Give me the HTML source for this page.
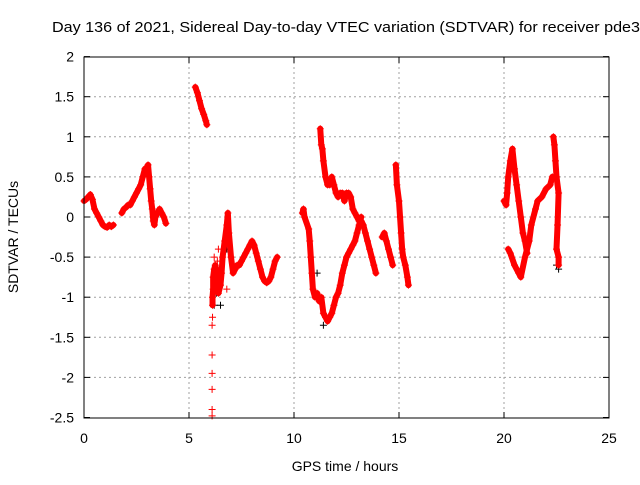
<!DOCTYPE html>
<html><head><meta charset="utf-8"><style>
body{margin:0;background:#fff;font-family:"Liberation Sans",sans-serif}
svg text{font-family:"Liberation Sans",sans-serif;font-size:14px;fill:#000}
</style></head><body>
<svg id="chart" width="640" height="480" xmlns="http://www.w3.org/2000/svg">
<text x="346" y="32" text-anchor="middle" textLength="588" lengthAdjust="spacingAndGlyphs" style="font-size:15px">Day 136 of 2021, Sidereal Day-to-day VTEC variation (SDTVAR) for receiver pde3</text>
<text x="345" y="471" text-anchor="middle">GPS time / hours</text>
<text transform="translate(18,237) rotate(-90)" text-anchor="middle">SDTVAR / TECUs</text>
<g id="grid"></g>
<g id="marks"></g>
<rect x="84" y="57" width="525" height="361" fill="none" stroke="#000" stroke-width="1"/>
</svg>
<script>
const xTicks=[0,5,10,15,20,25];
const yTicks=[2,1.5,1,0.5,0,-0.5,-1,-1.5,-2,-2.5];
const segA=[[0,0.2],[0.1,0.22],[0.2,0.25],[0.3,0.28],[0.4,0.22],[0.5,0.1],[0.6,0.05],[0.7,0],[0.8,-0.05],[0.9,-0.1],[1.0,-0.12],[1.1,-0.13],[1.2,-0.1],[1.3,-0.12],[1.4,-0.1]];
const segB=[[1.8,0.05],[1.9,0.1],[2.0,0.12],[2.1,0.15],[2.2,0.15],[2.3,0.2],[2.4,0.25],[2.5,0.3],[2.6,0.35],[2.7,0.4],[2.8,0.5],[2.9,0.6],[3.0,0.62],[3.05,0.65],[3.1,0.5],[3.15,0.35],[3.2,0.2],[3.25,0.1],[3.3,-0.05],[3.35,-0.1],[3.4,0],[3.5,0.05],[3.6,0.1],[3.7,0.05],[3.8,0],[3.9,-0.08]];
const segC=[[5.3,1.62],[5.4,1.55],[5.5,1.45],[5.6,1.35],[5.7,1.28],[5.8,1.2],[5.85,1.15]];
const sparseD=[[6.1,-2.48],[6.1,-2.4],[6.1,-2.15],[6.1,-1.95],[6.1,-1.72],[6.1,-1.35],[6.12,-1.25],[6.4,-0.4],[6.35,-0.55],[6.2,-0.5],[6.8,-0.9]];
const segD1=[[6.12,-1.1],[6.12,-1.0],[6.15,-0.9],[6.15,-0.75],[6.2,-0.65],[6.25,-0.6],[6.3,-0.65],[6.35,-0.9]];
const segD2=[[6.4,-0.95],[6.5,-0.85],[6.55,-0.7],[6.6,-0.5],[6.7,-0.3],[6.8,-0.1],[6.85,0.05],[6.9,-0.2],[7.0,-0.5],[7.1,-0.7],[7.2,-0.65],[7.3,-0.6],[7.4,-0.6],[7.5,-0.55],[7.6,-0.5],[7.7,-0.45],[7.8,-0.4],[7.9,-0.35],[8.0,-0.3],[8.1,-0.35],[8.2,-0.45],[8.3,-0.55],[8.4,-0.65],[8.5,-0.75],[8.6,-0.8],[8.7,-0.82],[8.8,-0.8],[8.9,-0.75],[9.0,-0.65],[9.1,-0.55],[9.2,-0.5]];
const segE=[[10.4,0.05],[10.45,0.1],[10.5,0],[10.7,-0.15],[10.75,-0.3],[10.8,-0.5],[10.85,-0.7],[10.9,-0.9],[11.0,-1.0],[11.1,-0.95],[11.2,-1.05],[11.3,-1.0],[11.4,-1.2],[11.5,-1.25],[11.6,-1.3],[11.7,-1.25],[11.8,-1.2],[11.9,-1.1],[12,-1.0],[12.1,-0.95],[12.2,-0.85],[12.3,-0.7],[12.4,-0.6],[12.5,-0.5],[12.6,-0.45],[12.7,-0.4],[12.8,-0.35],[12.9,-0.3],[13.0,-0.2],[13.1,-0.1],[13.2,0]];
const segF=[[11.25,1.1],[11.3,0.9],[11.35,0.85],[11.4,0.7],[11.5,0.5],[11.6,0.4],[11.7,0.4],[11.8,0.5],[11.9,0.4],[12.0,0.3],[12.1,0.25],[12.2,0.3],[12.3,0.3],[12.4,0.2],[12.5,0.3],[12.6,0.3],[12.7,0.25],[12.8,0.1],[12.9,0.05],[13.0,0],[13.1,-0.05],[13.2,-0.05],[13.3,-0.1],[13.4,-0.2],[13.5,-0.3],[13.6,-0.4],[13.7,-0.5],[13.8,-0.6],[13.9,-0.7]];
const segG=[[14.2,-0.25],[14.3,-0.2],[14.4,-0.3],[14.5,-0.4],[14.6,-0.5],[14.7,-0.6]];
const segH=[[14.85,0.65],[14.9,0.4],[15.0,0.2],[15.05,0],[15.1,-0.2],[15.15,-0.4],[15.2,-0.5],[15.3,-0.6],[15.4,-0.75],[15.45,-0.85]];
const segI=[[20,0.2],[20.1,0.15],[20.15,0.3],[20.2,0.5],[20.3,0.7],[20.4,0.85],[20.5,0.6],[20.6,0.4],[20.7,0.2],[20.8,0],[20.9,-0.2],[21.0,-0.3],[21.1,-0.45]];
const segJ=[[20.2,-0.4],[20.3,-0.45],[20.5,-0.6],[20.7,-0.7],[20.8,-0.75],[21.0,-0.5],[21.2,-0.3],[21.3,-0.1],[21.5,0.1],[21.6,0.2],[21.8,0.25],[22.0,0.35],[22.2,0.4],[22.3,0.5]];
const segK=[[22.35,1.0],[22.4,0.9],[22.45,0.7],[22.5,0.5],[22.6,0.3],[22.55,-0.1],[22.5,-0.4],[22.6,-0.5],[22.6,-0.6]];
const blackPts=[[6.2,-1.1],[6.3,-0.95],[6.5,-1.1],[6.8,-0.4],[11.1,-0.7],[11.4,-1.35],[22.5,-0.6],[22.6,-0.65]];
const series=[segA,segB,segC,segD1,segD2,segE,segF,segG,segH,segI,segJ,segK];

const X=t=>84+t*21, Y=v=>217-v*80.2;
const NS="http://www.w3.org/2000/svg";
const svg=document.getElementById('chart'),grid=document.getElementById('grid'),marks=document.getElementById('marks');
function mk(tag,attrs,parent){const e=document.createElementNS(NS,tag);for(const k in attrs)e.setAttribute(k,attrs[k]);parent.appendChild(e);return e;}
xTicks.forEach(t=>{
  if(t>0&&t<25){const l=mk('line',{x1:X(t),x2:X(t),y1:57,y2:418,stroke:'#a0a0a0','stroke-dasharray':'2,3'},grid);
  
  }
  mk('line',{x1:X(t),x2:X(t),y1:418,y2:412,stroke:'#000'},grid);
  mk('line',{x1:X(t),x2:X(t),y1:57,y2:63,stroke:'#000'},grid);
  const tx=mk('text',{x:X(t),y:443,'text-anchor':'middle'},svg);tx.textContent=t;
  
  
});
yTicks.forEach(v=>{
  if(v<2&&v>-2.5){const l=mk('line',{x1:84,x2:609,y1:Y(v),y2:Y(v),stroke:'#a0a0a0','stroke-dasharray':'2,3'},grid);
  
  }
  mk('line',{x1:84,x2:90,y1:Y(v),y2:Y(v),stroke:'#000'},grid);
  mk('line',{x1:609,x2:603,y1:Y(v),y2:Y(v),stroke:'#000'},grid);
  const tx=mk('text',{x:74,y:Y(v)+5,'text-anchor':'end'},svg);tx.textContent=v;
  
  
});
function plus(t,v,col){
  const p=mk('path',{d:`M${X(t)-3.5},${Y(v)}h7M${X(t)},${Y(v)-3.5}v7`,stroke:col,'stroke-width':1,fill:'none'},marks);
  
  
}
blackPts.forEach(p=>plus(p[0],p[1],'#000'));
sparseD.forEach(p=>plus(p[0],p[1],'#f00'));
series.forEach(s=>{
  const pl=mk('polyline',{points:s.map(p=>X(p[0])+','+Y(p[1])).join(' '),stroke:'#f00','stroke-width':6,fill:'none','stroke-linejoin':'round','stroke-linecap':'round'},marks);
  
  
  s.forEach(p=>plus(p[0],p[1],'#f00'));
});
</script>
</body></html>
